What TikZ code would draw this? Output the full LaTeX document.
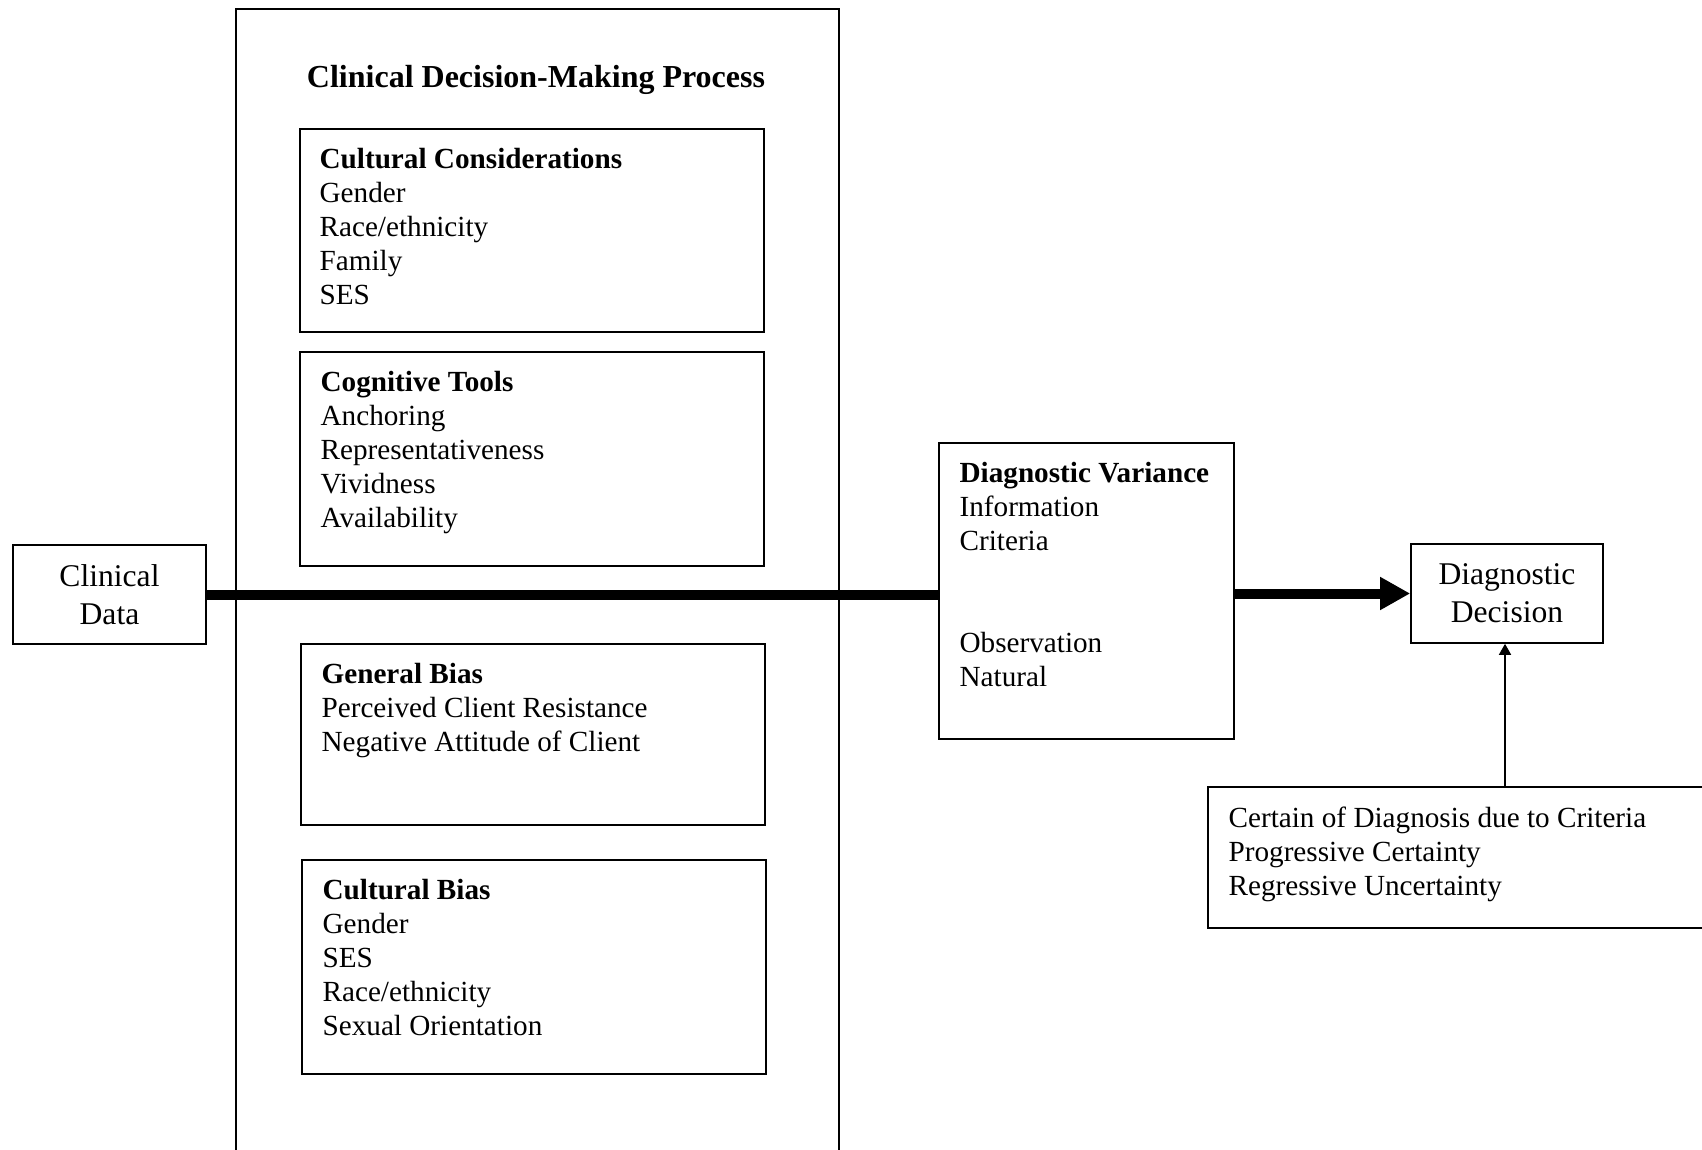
\documentclass[tikz,border=0pt]{standalone}
\usepackage{fontspec}
\setmainfont{Liberation Serif}
\usetikzlibrary{positioning,arrows.meta}

\begin{document}
\begin{tikzpicture}[x=0.5pt, y=-0.5pt, every node/.style={font=\fontsize{14.6}{17}\selectfont},
	box/.style={draw, line width=0.8pt, inner sep=0pt},
	listtext/.style={inner sep=0pt, align=left},
	bigtext/.style={font=\fontsize{15.8}{19}\selectfont, align=center}]
	\useasboundingbox (0,0) rectangle (1702,1150);
	% process frame, open at the bottom of the page
	\node[box, minimum width=301.5pt, minimum height=580.5pt] (proc) at (537.5,589.5) {};
	\node[font=\fontsize{16}{19}\selectfont\bfseries] (title) at (536,80) {Clinical Decision-Making Process};
	\node[box, minimum width=232pt, minimum height=101.5pt] (ccons) at (532,230.5) {};
	\node[box, minimum width=232pt, minimum height=107pt] (cogt) at (532,459) {};
	\node[box, minimum width=232pt, minimum height=90.5pt] (gbias) at (533,734.5) {};
	\node[box, minimum width=232pt, minimum height=107pt] (cbias) at (534,967) {};
	\node[listtext, below right=10pt and 10pt of ccons.north west] (ccons-t) {\textbf{Cultural Considerations}\\Gender\\Race/ethnicity\\Family\\SES};
	\node[listtext, below right=10pt and 10.5pt of cogt.north west] (cogt-t) {\textbf{Cognitive Tools}\\Anchoring\\Representativeness\\Vividness\\Availability};
	\node[listtext, below right=10pt and 10.5pt of gbias.north west] (gbias-t) {\textbf{General Bias}\\Perceived Client Resistance\\Negative Attitude of Client};
	\node[listtext, below right=10pt and 10.5pt of cbias.north west] (cbias-t) {\textbf{Cultural Bias}\\Gender\\SES\\Race/ethnicity\\Sexual Orientation};
	% left and right
	\node[box, bigtext, minimum width=96.5pt, minimum height=49.5pt] (cdata) at (109.5,594.5) {Clinical\\Data};
	\node[box, minimum width=147.5pt, minimum height=148pt] (dvar) at (1086.5,591) {};
	\node[listtext, below right=10pt and 10.5pt of dvar.north west] (dvar-t) {\textbf{Diagnostic Variance}\\Information\\Criteria\\[34pt]Observation\\Natural};
	\node[box, bigtext, minimum width=96pt, minimum height=49.5pt] (ddec) at (1507,593.5) {Diagnostic\\Decision};
	\node[box, minimum width=256pt, minimum height=70.5pt] (cert) at (1464,857.5) {};
	\node[listtext, below right=10pt and 10.5pt of cert.north west] (cert-t) {Certain of Diagnosis due to Criteria\\Progressive Certainty\\Regressive Uncertainty};
	% connectors
	\draw[line width=5pt] (cdata.east) -- (dvar.west |- cdata.east);
	\draw[line width=5pt, -{Triangle[length=15pt,width=15.5pt]}] (dvar.east |- ddec.west) -- (ddec.west);
	\draw[line width=0.8pt, -{Triangle[length=5.5pt,width=6pt]}] ([xshift=-1pt]ddec.south |- cert.north) -- ([xshift=-1pt]ddec.south);
\end{tikzpicture}
\end{document}
